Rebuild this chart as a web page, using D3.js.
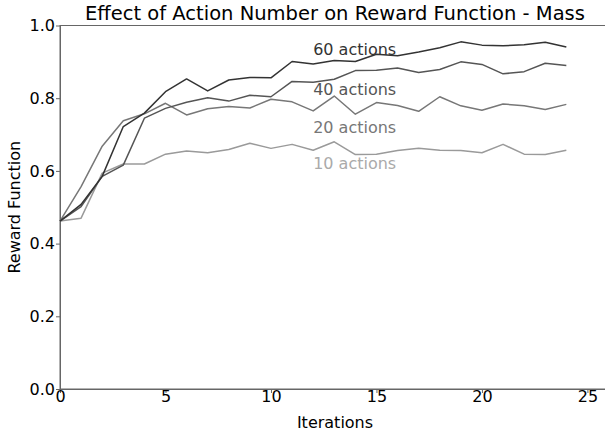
<!DOCTYPE html>
<html>
<head>
<meta charset="utf-8">
<script src="https://cdn.jsdelivr.net/npm/d3@7"></script>
<style>
  body { margin: 0; background: #fff; }
  text { font-family: "DejaVu Sans", sans-serif; }
</style>
</head>
<body>
<svg width="605" height="434"></svg>
<script>
const svg = d3.select("svg");

const iterations = d3.range(0, 25);
const actions60 = [0.462, 0.508, 0.585, 0.722, 0.759, 0.818, 0.853, 0.820, 0.850, 0.857, 0.856, 0.901, 0.894, 0.904, 0.901, 0.921, 0.917, 0.927, 0.939, 0.955, 0.946, 0.944, 0.947, 0.954, 0.941];
const actions40 = [0.462, 0.502, 0.585, 0.616, 0.745, 0.772, 0.789, 0.801, 0.792, 0.808, 0.804, 0.846, 0.844, 0.852, 0.876, 0.877, 0.883, 0.871, 0.879, 0.900, 0.893, 0.867, 0.873, 0.896, 0.890];
const actions20 = [0.462, 0.557, 0.668, 0.738, 0.757, 0.786, 0.754, 0.771, 0.777, 0.773, 0.797, 0.790, 0.765, 0.806, 0.756, 0.788, 0.780, 0.764, 0.804, 0.779, 0.767, 0.784, 0.779, 0.769, 0.783];
const actions10 = [0.462, 0.470, 0.594, 0.619, 0.619, 0.646, 0.655, 0.650, 0.659, 0.676, 0.662, 0.673, 0.657, 0.680, 0.645, 0.646, 0.656, 0.662, 0.657, 0.656, 0.650, 0.673, 0.646, 0.645, 0.657];

const seriesNames = ["60 actions", "40 actions", "20 actions", "10 actions"];
const seriesValues = [actions60, actions40, actions20, actions10];
const labelY = [0.92, 0.81, 0.705, 0.605];
const colors = ["#333333", "#555555", "#777777", "#9a9a9a"];
const labelColors = ["#333333", "#555555", "#777777", "#aaaaaa"];

const xTicks = [0, 5, 10, 15, 20, 25];
const yTicks = [0.0, 0.2, 0.4, 0.6, 0.8, 1.0];

const margin = {top: 25.5, left: 60, bottom: 389};

const xScale = d3.scaleLinear()
    .domain([0, 26.07])
    .range([margin.left, 610]);

const yScale = d3.scaleLinear()
    .domain([0, 1])
    .range([margin.bottom, margin.top]);

// frame (right side falls off the picture)
svg.append("rect")
    .attr("x", xScale(0))
    .attr("y", yScale(1))
    .attr("width", xScale(26.07) - xScale(0))
    .attr("height", yScale(0) - yScale(1))
    .attr("fill", "none")
    .attr("stroke", "#666")
    .attr("stroke-width", 1);

const xAxis = d3.axisBottom(xScale)
    .tickValues(xTicks)
    .tickSize(4)
    .tickSizeOuter(0)
    .tickFormat(d3.format("d"));

const yAxis = d3.axisLeft(yScale)
    .tickValues(yTicks)
    .tickSize(4)
    .tickSizeOuter(0)
    .tickFormat(d3.format(".1f"));

let gx = svg.append("g")
    .attr("transform", `translate(0,${yScale(0)})`)
    .call(xAxis);

let gy = svg.append("g")
    .attr("transform", `translate(${xScale(0)},0)`)
    .call(yAxis);

[gx, gy].forEach(g => {
    g.select(".domain").attr("stroke", "#666");
    g.selectAll(".tick line").attr("stroke", "#666");
    g.selectAll(".tick text")
        .attr("fill", "#000")
        .style("font-size", "16px")
        .style("font-family", "DejaVu Sans, sans-serif");
});
gx.selectAll(".tick text").attr("dy", "0.6em").attr("y", 3);
gy.selectAll(".tick text").attr("x", -5);

const line = d3.line()
    .x((d, i) => xScale(iterations[i]))
    .y(d => yScale(d));

// lightest first so darker lines sit on top
for (let k = seriesValues.length - 1; k >= 0; k--) {
    svg.append("path")
        .datum(seriesValues[k])
        .attr("d", line)
        .attr("fill", "none")
        .attr("stroke", colors[k])
        .attr("stroke-width", 1.5)
        .attr("stroke-linejoin", "round");
}

svg.selectAll(".series-label")
    .data(seriesNames)
    .enter()
    .append("text")
        .attr("class", "series-label")
        .attr("x", xScale(12))
        .attr("y", (d, i) => yScale(labelY[i]))
        .attr("fill", (d, i) => labelColors[i])
        .style("font-size", "16px")
        .text(d => d);

svg.append("text")
    .attr("x", 335)
    .attr("y", 20)
    .attr("text-anchor", "middle")
    .style("font-size", "19.5px")
    .text("Effect of Action Number on Reward Function - Mass");

svg.append("text")
    .attr("x", 335)
    .attr("y", 428)
    .attr("text-anchor", "middle")
    .style("font-size", "16px")
    .text("Iterations");

svg.append("text")
    .attr("transform", `translate(20,${(yScale(0) + yScale(1)) / 2}) rotate(-90)`)
    .attr("text-anchor", "middle")
    .style("font-size", "16px")
    .text("Reward Function");
</script>
</body>
</html>
